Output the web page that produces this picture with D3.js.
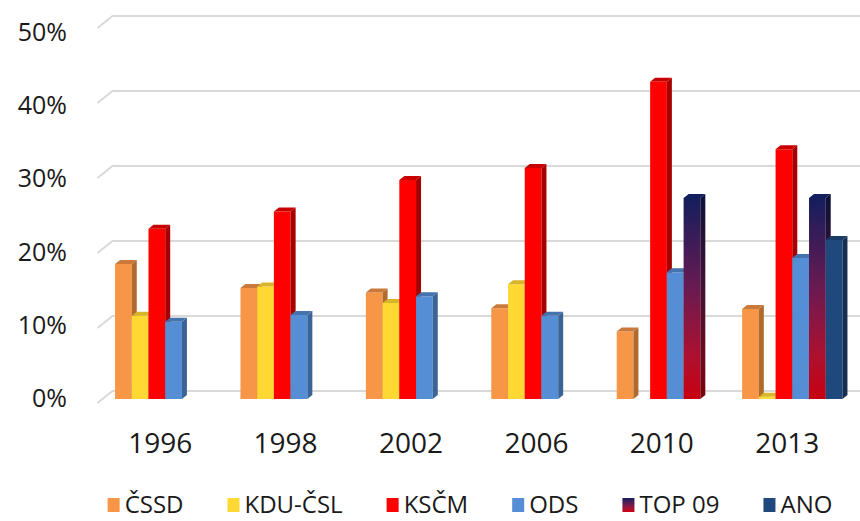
<!DOCTYPE html>
<html>
<head>
<meta charset="utf-8">
<script src="https://cdn.jsdelivr.net/npm/d3@7"></script>
<style>
  html, body { margin: 0; padding: 0; background: #fff; }
  svg { display: block; font-family: "Open Sans", sans-serif; }
</style>
</head>
<body>
<div id="chart"></div>
<script>
// data (percent)
const years = ["1996", "1998", "2002", "2006", "2010", "2013"];
const series = ["ČSSD", "KDU-ČSL", "KSČM", "ODS", "TOP 09", "ANO"];
const cssd   = [18.0, 14.8, 14.2, 12.1, 9.0, 12.0];
const kdu    = [11.1, 15.0, 12.8, 15.3, null, 0.3];
const kscm   = [22.7, 25.0, 29.2, 30.8, 42.3, 33.3];
const ods    = [10.3, 11.2, 13.7, 11.1, 16.9, 18.8];
const top09  = [null, null, null, null, 26.8, 26.8];
const ano    = [null, null, null, null, null, 21.2];
const yTicks = [0, 10, 20, 30, 40, 50];

const values = [cssd, kdu, kscm, ods, top09, ano];
const colors = {
  "ČSSD":    { front: "#f79646", side: "#b06a2e", top: "#c9793a" },
  "KDU-ČSL": { front: "#ffd833", side: "#b89a22", top: "#d9b52a" },
  "KSČM":    { front: "#ff0000", side: "#a80000", top: "#c80000" },
  "ODS":     { front: "#558ed5", side: "#3a6498", top: "#4473ad" },
  "TOP 09":  { front: "url(#gTop)", side: "url(#gTopSide)", top: "#14205e" },
  "ANO":     { front: "#1f497d", side: "#152f52", top: "#1a3d68" }
};

const W = 860, H = 521;
// oblique 3D: floor front edge, bars sit a bit back, back wall further back
const depth = { bx: 5, by: -4, wx: 15, wy: -12 };

const svg = d3.select("#chart").append("svg")
  .attr("width", W).attr("height", H);

const defs = svg.append("defs");
function grad(id, stops) {
  const g = defs.append("linearGradient").attr("id", id)
    .attr("x1", 0).attr("y1", 0).attr("x2", 0).attr("y2", 1);
  stops.forEach(([o, c]) => g.append("stop").attr("offset", o).attr("stop-color", c));
}
grad("gTop", [[0, "#141e5c"], [0.45, "#6a1a52"], [0.8, "#b0102e"], [1, "#c80010"]]);
grad("gTopSide", [[0, "#0b1238"], [0.45, "#431034"], [0.8, "#6e0a1d"], [1, "#7c000a"]]);

const x0 = d3.scaleBand().domain(years).range([97.5, 850])
  .paddingInner(0.2).paddingOuter(0.1);
const x1 = d3.scaleBand().domain(series).range([0, x0.bandwidth()]);
const y = d3.scaleLinear().domain([0, 50]).range([403, 28]);
// tick labels sit a little off the floor edge
const yLab = d3.scaleLinear().domain([0, 50]).range([397, 31]);

// gridlines (diagonal on the floor/left + back wall)
const grid = svg.append("g");
yTicks.forEach((t) => {
  const yy = y(t);
  grid.append("path")
    .attr("d", `M${x0.range()[0]},${yy} L${x0.range()[0] + depth.wx},${yy + depth.wy} L${W + 10},${yy + depth.wy}`)
    .attr("fill", "none").attr("stroke", "#d9d9d9").attr("stroke-width", 2);
});

// y labels
svg.append("g").selectAll("text").data(yTicks).join("text")
  .attr("x", 67).attr("y", (d) => yLab(d))
  .attr("text-anchor", "end").attr("dominant-baseline", "central")
  .attr("font-size", 25).attr("fill", "#1a1a1a")
  .text((d) => d + "%");

// category labels
svg.append("g").selectAll("text").data(years).join("text")
  .attr("x", (d) => x0(d) + x0.bandwidth() / 2)
  .attr("y", 453)
  .attr("text-anchor", "middle")
  .attr("font-size", 28).attr("fill", "#1a1a1a")
  .text((d) => d);

// bars
const bars = [];
years.forEach((yr, i) => {
  series.forEach((s, j) => {
    const v = values[j][i];
    if (v == null) return;
    bars.push({ yr, s, v });
  });
});

const gBars = svg.append("g");
const base = y(0) + depth.by;
bars.forEach((b) => {
  const bx = x0(b.yr) + x1(b.s) + depth.bx;
  const bw = x1.bandwidth();
  const top = y(b.v) + depth.by;
  const dx = depth.bx, dy = depth.by;
  const c = colors[b.s];
  const g = gBars.append("g");
  g.append("rect").attr("x", bx).attr("y", top)
    .attr("width", bw).attr("height", Math.max(base - top, 0.5))
    .attr("fill", c.front);
  g.append("path")
    .attr("d", `M${bx + bw},${top} L${bx + bw + dx},${top + dy} L${bx + bw + dx},${base + dy} L${bx + bw},${base} Z`)
    .attr("fill", c.side);
  g.append("path")
    .attr("d", `M${bx},${top} L${bx + dx},${top + dy} L${bx + bw + dx},${top + dy} L${bx + bw},${top} Z`)
    .attr("fill", c.top);
});

// legend
const leg = svg.append("g");
const gap = 44;
let lx = 0;
series.forEach((s) => {
  const it = leg.append("g").attr("transform", `translate(${lx},0)`);
  it.append("rect").attr("x", 0).attr("y", -15).attr("width", 12).attr("height", 14)
    .attr("fill", colors[s].front);
  const tx = it.append("text").attr("x", 17).attr("y", 0)
    .attr("font-size", 24).attr("fill", "#1a1a1a").text(s);
  lx += 17 + tx.node().getComputedTextLength() + gap;
});
lx -= gap;
leg.attr("transform", `translate(${(W - lx) / 2 + 40},513)`);
</script>
</body>
</html>
